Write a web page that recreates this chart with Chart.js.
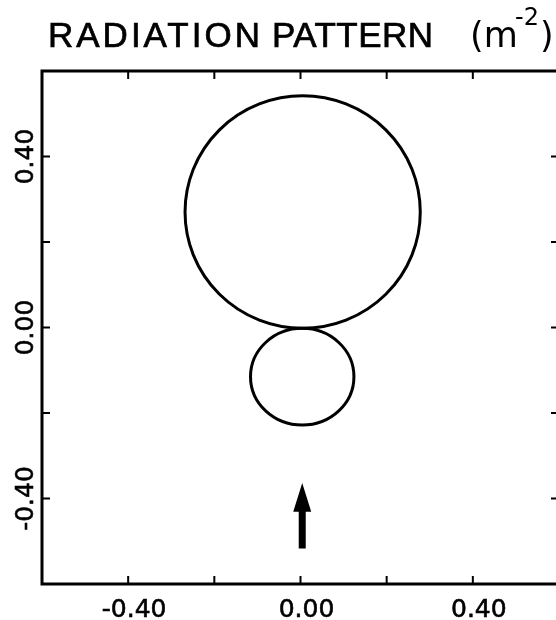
<!DOCTYPE html>
<html>
<head>
<meta charset="utf-8">
<script src="https://cdn.jsdelivr.net/npm/chart.js@4.4.1/dist/chart.umd.min.js"></script>
<style>
  html, body { margin: 0; padding: 0; background: #fff; overflow: hidden; }
  #wrap { position: relative; width: 580px; height: 620px; }
</style>
</head>
<body>
<div id="wrap"><canvas id="pattern"></canvas></div>
<script>
// axis range and labelled ticks
const axisMin = -0.6;
const axisMax = 0.6;
const tickStep = 0.2;
const labelledTicks = [-0.4, 0, 0.4];

// lobes of the pattern: upper (forward) and lower (backward)
const lobeCenterX = [0.005, 0.004];
const lobeCenterY = [0.270, -0.115];
const lobeRadiusX = [0.273, 0.120];
const lobeRadiusY = [0.272, 0.113];

// incidence arrow: tail, head base, tip
const arrowX = 0.004;
const arrowY = [-0.517, -0.431, -0.364];

const FONT = '"DejaVu Sans", "Liberation Sans", sans-serif';
const TITLE_FONT = '"Liberation Sans", Arial, sans-serif';

function isLabelled(v) {
  return labelledTicks.some(t => Math.abs(t - v) < 1e-6);
}

// frame, inward tick marks, rotated y labels, lobes, arrow and title
const patternPlugin = {
  id: 'pattern',
  afterDraw(chart) {
    const ctx = chart.ctx;
    const area = chart.chartArea;
    const xs = chart.scales.x;
    const ys = chart.scales.y;

    ctx.save();
    ctx.strokeStyle = '#000';
    ctx.fillStyle = '#000';

    // frame
    ctx.lineWidth = 3;
    ctx.strokeRect(area.left, area.top, area.right - area.left, area.bottom - area.top);

    // tick marks pointing inward on every side
    ctx.lineWidth = 2;
    ctx.beginPath();
    xs.ticks.forEach(t => {
      const px = xs.getPixelForValue(t.value);
      if (px <= area.left + 1 || px >= area.right - 1) return;
      ctx.moveTo(px, area.bottom); ctx.lineTo(px, area.bottom - 8);
      ctx.moveTo(px, area.top); ctx.lineTo(px, area.top + 8);
    });
    ys.ticks.forEach(t => {
      const py = ys.getPixelForValue(t.value);
      if (py <= area.top + 1 || py >= area.bottom - 1) return;
      ctx.moveTo(area.left, py); ctx.lineTo(area.left + 8, py);
      ctx.moveTo(area.right, py); ctx.lineTo(area.right - 8, py);
    });
    ctx.stroke();

    // y labels, rotated to read upward
    ctx.font = '25px ' + FONT;
    ctx.textAlign = 'center';
    ctx.textBaseline = 'alphabetic';
    ctx.lineWidth = 0.6;
    ys.ticks.forEach(t => {
      if (!isLabelled(t.value)) return;
      const py = ys.getPixelForValue(t.value);
      const txt = t.value.toFixed(2);
      ctx.save();
      ctx.translate(33, py);
      ctx.rotate(-Math.PI / 2);
      ctx.fillText(txt, 0, 0);
      ctx.strokeText(txt, 0, 0);
      ctx.restore();
    });

    // lobes
    ctx.save();
    ctx.beginPath();
    ctx.rect(area.left, area.top, area.right - area.left, area.bottom - area.top);
    ctx.clip();
    ctx.lineWidth = 3;
    for (let i = 0; i < lobeCenterX.length; i++) {
      const cx = xs.getPixelForValue(lobeCenterX[i]);
      const cy = ys.getPixelForValue(lobeCenterY[i]);
      const rx = Math.abs(xs.getPixelForValue(lobeCenterX[i] + lobeRadiusX[i]) - cx);
      const ry = Math.abs(ys.getPixelForValue(lobeCenterY[i] + lobeRadiusY[i]) - cy);
      ctx.beginPath();
      ctx.ellipse(cx, cy, rx, ry, 0, 0, Math.PI * 2);
      ctx.stroke();
    }

    // arrow: shaft runs up into the head so they join
    const ax = xs.getPixelForValue(arrowX);
    const tail = ys.getPixelForValue(arrowY[0]);
    const base = ys.getPixelForValue(arrowY[1]);
    const tip = ys.getPixelForValue(arrowY[2]);
    ctx.beginPath();
    ctx.moveTo(ax - 3.5, tail);
    ctx.lineTo(ax - 3.5, base);
    ctx.lineTo(ax - 9, base);
    ctx.lineTo(ax, tip);
    ctx.lineTo(ax + 9, base);
    ctx.lineTo(ax + 3.5, base);
    ctx.lineTo(ax + 3.5, tail);
    ctx.closePath();
    ctx.fill();
    ctx.restore();

    // title with superscript unit
    ctx.textAlign = 'left';
    ctx.textBaseline = 'alphabetic';
    ctx.lineWidth = 0.7;
    ctx.font = '35px ' + TITLE_FONT;
    ctx.letterSpacing = '3px';
    ctx.fillText('RADIATION', 48, 47);
    ctx.strokeText('RADIATION', 48, 47);
    ctx.letterSpacing = '0.5px';
    ctx.fillText('PATTERN', 272, 47);
    ctx.strokeText('PATTERN', 272, 47);
    ctx.letterSpacing = '0px';
    ctx.font = '35px ' + FONT;
    ctx.fillText('(m', 470, 47);
    ctx.fillText(')', 540, 47);
    ctx.font = '24px ' + FONT;
    ctx.fillText('-2', 515, 25);

    ctx.restore();
  }
};

new Chart(document.getElementById('pattern'), {
  type: 'scatter',
  data: { datasets: [] },
  options: {
    responsive: true,
    maintainAspectRatio: false,
    animation: false,
    events: [],
    layout: { padding: { top: 71, right: 21, left: 0, bottom: 0 } },
    plugins: {
      legend: { display: false },
      title: { display: false },
      tooltip: { enabled: false }
    },
    scales: {
      x: {
        type: 'linear',
        min: axisMin,
        max: axisMax,
        grid: { display: false },
        border: { display: false },
        ticks: {
          stepSize: tickStep,
          autoSkip: false,
          maxRotation: 0,
          padding: 3,
          labelOffset: 6,
          color: '#000',
          textStrokeColor: '#000',
          textStrokeWidth: 0.6,
          font: { family: FONT, size: 25 },
          callback: v => isLabelled(v) ? Number(v).toFixed(2) : ''
        },
        afterFit: scale => { scale.height = 36; }
      },
      y: {
        type: 'linear',
        min: axisMin,
        max: axisMax,
        grid: { display: false },
        border: { display: false },
        ticks: { stepSize: tickStep, display: false },
        afterFit: scale => { scale.width = 42; }
      }
    }
  },
  plugins: [patternPlugin]
});
</script>
</body>
</html>
